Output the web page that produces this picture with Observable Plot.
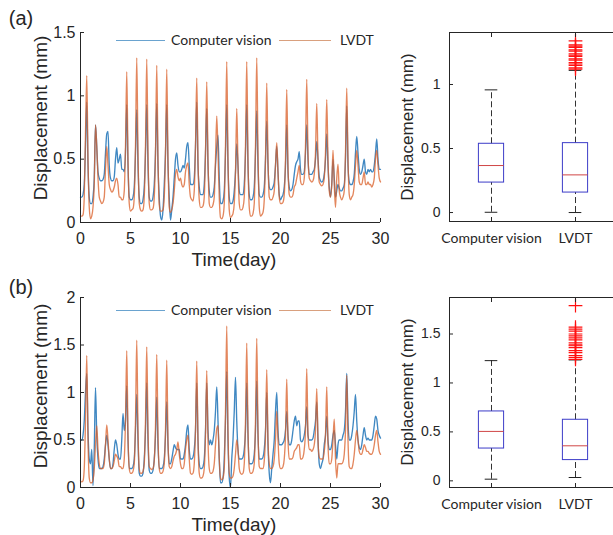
<!DOCTYPE html>
<html><head><meta charset="utf-8">
<script src="https://cdn.jsdelivr.net/npm/d3@7"></script>
<script src="https://cdn.jsdelivr.net/npm/@observablehq/plot@0.6"></script>
<style>
body{margin:0;background:#fff;}
#c{position:relative;width:613px;height:535px;overflow:hidden;background:#fff;font-family:"Liberation Sans",Arial,sans-serif;color:#262626;}
.p{position:absolute;}
.lab{position:absolute;white-space:nowrap;line-height:1;}
.rot{transform:translate(-50%,-50%) rotate(-90deg);}
.ctr{transform:translate(-50%,-50%);}
.leg{position:absolute;font-family:Lato,"Open Sans",sans-serif;font-size:14px;white-space:nowrap;line-height:1;transform:translateY(-50%);}
.ll{position:absolute;height:0;border-top:1.3px solid;}
</style></head><body><div id="c"></div>
<script>
// Displacement samples every 3 hours (1/8 day), days 0..30
const CV_A = [
 .2,.2,.22,.3,.6,.95,.45,.2,
 .15,.15,.2,.35,.77,.6,.4,.35,
 .33,.33,.34,.38,.55,.7,.72,.45,
 .35,.33,.33,.36,.5,.59,.47,.5,
 .54,.42,.42,.4,.55,.93,.45,.2,
 .18,.18,.2,.28,.55,.89,.45,.2,
 .15,.15,.18,.28,.55,.93,.45,.2,
 .17,.17,.2,.3,.55,.94,.45,.2,
 .05,.02,.1,.3,.55,.93,.45,.2,
 .02,.1,.2,.35,.5,.55,.45,.4,
 .4,.42,.45,.43,.5,.6,.63,.45,
 .3,.3,.3,.35,.6,.95,.45,.28,
 .22,.22,.22,.3,.55,.9,.45,.25,
 .2,.2,.22,.28,.45,.6,.69,.35,
 .15,.15,.17,.25,.55,.93,.45,.2,
 .15,.15,.17,.25,.4,.62,.45,.25,
 .22,.22,.22,.3,.55,.93,.45,.22,
 .18,.18,.2,.28,.55,.88,.45,.22,
 .2,.2,.22,.28,.5,.8,.45,.28,
 .26,.26,.28,.32,.45,.6,.4,.22,
 .18,.2,.22,.28,.45,.77,.4,.28,
 .25,.26,.3,.38,.45,.48,.5,.56,
 .42,.38,.38,.4,.55,.77,.5,.38,
 .38,.38,.4,.42,.5,.64,.5,.36,
 .33,.32,.33,.38,.5,.7,.45,.28,
 .2,.3,.5,.35,.2,.25,.3,.27,
 .25,.25,.27,.3,.5,.92,.45,.32,
 .3,.3,.32,.38,.55,.68,.55,.42,
 .38,.4,.45,.5,.4,.38,.42,.4,
 .42,.4,.4,.45,.55,.66,.5,.42,
 .42];
const LVDT_A = [
 .05,.05,.06,.2,.7,1.16,.5,.12,
 .03,.05,.12,.3,.77,.6,.35,.2,
 .17,.15,.16,.2,.42,.6,.45,.3,
 .26,.24,.25,.28,.33,.35,.3,.2,
 .2,.18,.18,.25,.6,1.19,.5,.15,
 .09,.1,.11,.2,.6,1.3,.55,.15,
 .1,.09,.1,.2,.6,1.29,.55,.15,
 .1,.1,.11,.2,.55,1.24,.5,.14,
 .09,.09,.1,.2,.55,1.21,.5,.12,
 .08,.1,.15,.25,.38,.42,.36,.33,
 .35,.3,.28,.3,.4,.45,.47,.3,
 .2,.18,.17,.25,.6,1.14,.5,.18,
 .12,.12,.13,.2,.55,1.11,.5,.15,
 .12,.12,.14,.2,.5,.84,.55,.2,
 .04,.03,.05,.15,.6,1.27,.5,.1,
 .04,.05,.07,.15,.4,.9,.45,.15,
 .1,.1,.12,.2,.6,1.27,.5,.12,
 .05,.05,.07,.15,.6,1.3,.55,.12,
 .05,.06,.08,.18,.5,1.1,.5,.2,
 .18,.18,.2,.25,.45,.63,.4,.2,
 .15,.15,.16,.22,.5,1.05,.45,.22,
 .2,.2,.22,.28,.3,.35,.4,.45,
 .33,.3,.3,.35,.6,1.13,.55,.35,
 .33,.32,.33,.38,.55,.94,.5,.32,
 .3,.29,.3,.35,.55,.97,.5,.25,
 .2,.3,.57,.3,.12,.35,.46,.25,
 .2,.18,.2,.25,.55,1.06,.5,.22,
 .18,.2,.22,.3,.45,.57,.45,.32,
 .3,.3,.35,.4,.3,.3,.32,.3,
 .3,.28,.3,.35,.5,.57,.45,.35,
 .32];
const CV_B = [
 .5,.5,.55,.7,1.0,1.2,.6,.3,
 .25,.4,.02,.4,1.05,.55,.3,.2,
 .2,.2,.22,.3,.45,.55,.45,.3,
 .2,.2,.25,.4,.5,.45,.35,.3,
 .3,.5,.78,.6,.7,1.07,.5,.2,
 .2,.2,.22,.3,.6,.98,.5,.15,
 .12,.12,.15,.3,.6,1.1,.5,.18,
 .15,.15,.18,.3,.55,.95,.45,.2,
 .2,.2,.22,.3,.55,.9,.45,.25,
 .25,.3,.38,.45,.42,.4,.4,.4,
 .3,.3,.3,.35,.45,.6,.66,.4,
 .3,.3,.32,.4,.6,1.1,.5,.25,
 .2,.2,.22,.3,.6,1.1,.6,.45,
 .5,.45,.5,.6,.8,1.06,.7,.3,
 .05,.05,.1,.3,.7,1.22,.5,.1,
 0,.3,.5,.8,1.16,.7,.4,.3,
 .3,.3,.32,.4,.6,1.1,.55,.25,
 .25,.25,.27,.35,.6,1.12,.55,.3,
 .3,.3,.32,.4,.6,1.0,.45,.15,
 .05,.2,.35,.5,.8,1.0,.6,.45,
 .45,.45,.47,.5,.6,.8,.55,.45,
 .45,.5,.6,.7,.75,.65,.7,.7,
 .5,.48,.5,.55,.65,.85,.55,.5,
 .5,.5,.52,.6,.7,.9,.5,.25,
 .2,.25,.3,.45,.55,.75,.5,.4,
 .4,.45,.55,.6,.45,.3,.45,.5,
 .5,.5,.55,.6,.8,1.2,.7,.5,
 .5,.55,.65,.8,.98,.7,.5,.42,
 .4,.45,.55,.63,.55,.5,.52,.5,
 .5,.5,.55,.65,.75,.72,.6,.55,
 .52];
const LVDT_B = [
 .07,.06,.07,.2,.7,1.39,.5,.1,
 .05,.05,.08,.2,.45,.65,.4,.25,
 .2,.2,.2,.25,.45,.66,.5,.3,
 .2,.2,.22,.28,.35,.33,.3,.22,
 .22,.2,.2,.3,.7,1.44,.55,.2,
 .15,.15,.17,.25,.7,1.55,.6,.2,
 .15,.15,.17,.25,.7,1.48,.6,.22,
 .2,.19,.2,.28,.65,1.4,.55,.2,
 .15,.15,.17,.25,.6,1.34,.5,.22,
 .2,.22,.28,.33,.35,.4,.48,.35,
 .25,.2,.2,.25,.4,.5,.55,.3,
 .15,.14,.15,.25,.6,1.33,.5,.15,
 .1,.1,.12,.2,.55,1.23,.5,.2,
 .15,.15,.17,.25,.45,.62,.65,.3,
 .1,.08,.1,.2,.8,1.7,.6,.15,
 .1,.1,.12,.2,.35,.5,.4,.2,
 .15,.14,.15,.25,.7,1.52,.6,.2,
 .15,.15,.17,.25,.7,1.57,.6,.22,
 .2,.2,.2,.28,.55,1.24,.5,.25,
 .2,.2,.22,.3,.5,.8,.5,.25,
 .2,.2,.22,.3,.55,1.14,.5,.3,
 .3,.3,.32,.38,.4,.42,.45,.45,
 .3,.3,.32,.4,.6,1.25,.55,.4,
 .4,.38,.4,.45,.6,1.04,.5,.32,
 .3,.3,.3,.38,.55,1.06,.45,.25,
 .25,.3,.5,.72,.3,.1,.25,.25,
 .25,.25,.27,.35,.6,1.18,.5,.22,
 .2,.2,.25,.35,.5,.6,.5,.38,
 .35,.35,.4,.45,.42,.38,.38,.36,
 .35,.35,.38,.45,.55,.6,.48,.38,
 .35];

// Box plot statistics
const cats = ["Computer vision", "LVDT"];
const boxA_lo = [0.002, 0.0], boxA_q1 = [0.234, 0.156], boxA_med = [0.367, 0.294], boxA_q3 = [0.537, 0.542], boxA_hi = [0.958, 1.11];
const boxB_lo = [0.017, 0.034], boxB_q1 = [0.33, 0.212], boxB_med = [0.505, 0.358], boxB_q3 = [0.709, 0.624], boxB_hi = [1.228, 1.235];
const outA = [1.12, 1.13, 1.15, 1.16, 1.17, 1.19, 1.2, 1.22, 1.23, 1.24, 1.26, 1.27, 1.29, 1.3, 1.31, 1.34];
const outB = [1.24, 1.26, 1.28, 1.31, 1.33, 1.36, 1.38, 1.39, 1.41, 1.44, 1.46, 1.48, 1.5, 1.53, 1.55, 1.57, 1.79];

const xTicks = [0, 5, 10, 15, 20, 25, 30];
const yTicksA = [0, 0.5, 1, 1.5], yTicksB = [0, 0.5, 1, 1.5, 2];
const bTicksA = [0, 0.5, 1], bTicksB = [0, 0.5, 1, 1.5];

const BLUE = "#1f73b7", ORANGE = "#d95f28", AX = "#262626";
const fmt = d => String(d);
const series = arr => arr.map((v, i) => ({t: i / 8, v}));

function linePanel(cv, lv, yMax, yTicks) {
  return Plot.plot({
    width: 400, height: 270, marginLeft: 80, marginRight: 20, marginTop: 32, marginBottom: 48,
    x: {domain: [0, 30]}, y: {domain: [0, yMax]},
    style: {fontFamily: "'Liberation Sans', Arial, sans-serif", fontSize: "16px", color: AX, background: "transparent", overflow: "visible"},
    marks: [
      Plot.line(series(cv), {x: "t", y: "v", stroke: BLUE, strokeWidth: 1.35, strokeOpacity: 0.85, curve: "monotone-x"}),
      Plot.line(series(lv), {x: "t", y: "v", stroke: ORANGE, strokeWidth: 1.35, strokeOpacity: 0.75, curve: "monotone-x"}),
      Plot.ruleX([0], {stroke: AX}),
      Plot.ruleY([0], {stroke: AX}),
      Plot.axisX({ticks: xTicks, tickSize: 0, tickPadding: 10, tickFormat: fmt, label: null, fontSize: 16}),
      Plot.axisX({ticks: xTicks, tickSize: 4, dy: -4, text: null, label: null, stroke: AX}),
      Plot.axisY({ticks: yTicks, tickSize: 0, tickPadding: 5, tickFormat: fmt, label: null, fontSize: 16}),
      Plot.axisY({ticks: yTicks, tickSize: 4, dx: 4, text: null, label: null, stroke: AX})
    ]
  });
}

function boxPanel(lo, q1, med, q3, hi, outl, yDom, yTicks, mb) {
  const boxes = cats.map((c, i) => ({pos: i + 1, lo: lo[i], q1: q1[i], med: med[i], q3: q3[i], hi: hi[i]}));
  return Plot.plot({
    width: 237, height: 270, marginLeft: 69, marginRight: 0, marginTop: 32, marginBottom: mb,
    x: {domain: [0.5, 2.5]}, y: {domain: yDom},
    style: {fontFamily: "'Liberation Sans', Arial, sans-serif", fontSize: "13px", color: AX, background: "transparent"},
    marks: [
      Plot.ruleX(boxes, {x: "pos", y1: "q3", y2: "hi", stroke: "#333", strokeDasharray: "6,3"}),
      Plot.ruleX(boxes, {x: "pos", y1: "lo", y2: "q1", stroke: "#333", strokeDasharray: "6,3"}),
      Plot.ruleY(boxes, {y: "hi", x1: d => d.pos - 0.075, x2: d => d.pos + 0.075, stroke: "#222"}),
      Plot.ruleY(boxes, {y: "lo", x1: d => d.pos - 0.075, x2: d => d.pos + 0.075, stroke: "#222"}),
      Plot.rect(boxes, {x1: d => d.pos - 0.15, x2: d => d.pos + 0.15, y1: "q1", y2: "q3", stroke: "#3c3cc8", fill: "none"}),
      Plot.ruleY(boxes, {y: "med", x1: d => d.pos - 0.15, x2: d => d.pos + 0.15, stroke: "#d04646"}),
      Plot.dot(outl, {x: () => 2, y: d => d, symbol: "plus", stroke: "#ff1010", r: 4.5, strokeWidth: 1.2}),
      Plot.frame({stroke: AX}),
      Plot.axisX({ticks: [1, 2], tickSize: 0, tickPadding: 12, tickFormat: d => cats[d - 1], label: null, fontSize: 14, fontFamily: "Lato, 'Open Sans', sans-serif"}),
      Plot.axisX({ticks: [1, 2], tickSize: 4, dy: -4, text: null, label: null, stroke: AX}),
      Plot.axisX({ticks: [1, 2], anchor: "top", tickSize: 4, dy: 4, text: null, label: null, stroke: AX}),
      Plot.axisY({ticks: yTicks, tickSize: 0, tickPadding: 9, tickFormat: fmt, label: null, fontSize: 14}),
      Plot.axisY({ticks: yTicks, tickSize: 4, dx: 4, text: null, label: null, stroke: AX})
    ]
  });
}

const c = document.getElementById("c");
function place(el, left, top) { el.classList.add("p"); el.style.left = left + "px"; el.style.top = top + "px"; c.appendChild(el); }
function label(txt, x, y, size, cls) {
  const d = document.createElement("div");
  d.className = "lab " + cls; d.textContent = txt;
  d.style.left = x + "px"; d.style.top = y + "px"; d.style.fontSize = size + "px";
  c.appendChild(d);
}
function legend(y) {
  const items = [["#6aa3cf", 116, 165, "Computer vision", 171], ["#d9a07e", 279, 331, "LVDT", 340]];
  for (const [lc, x1, x2, txt, tx] of items) {
    const l = document.createElement("div"); l.className = "ll";
    l.style.left = x1 + "px"; l.style.width = (x2 - x1) + "px"; l.style.top = y + "px"; l.style.borderColor = lc;
    c.appendChild(l);
    const t = document.createElement("div"); t.className = "leg"; t.textContent = txt;
    t.style.left = tx + "px"; t.style.top = y + "px"; c.appendChild(t);
  }
}

place(linePanel(CV_A, LVDT_A, 1.5, yTicksA), 0, 0);
place(linePanel(CV_B, LVDT_B, 2, yTicksB), 0, 265);
place(boxPanel(boxA_lo, boxA_q1, boxA_med, boxA_q3, boxA_hi, outA, [-0.07, 1.406], bTicksA, 49), 380, 0);
place(boxPanel(boxB_lo, boxB_q1, boxB_med, boxB_q3, boxB_hi, outB, [-0.068, 1.873], bTicksB, 48), 380, 265);

label("(a)", 21, 18, 20, "ctr");
label("(b)", 21, 287, 20, "ctr");
label("Displacement (mm)", 40, 118, 19, "rot");
label("Displacement (mm)", 40, 386, 19, "rot");
label("Time(day)", 234, 259, 19, "ctr");
label("Time(day)", 234, 524, 19, "ctr");
label("Displacement (mm)", 407, 127, 17, "rot");
label("Displacement (mm)", 407, 392, 17, "rot");
legend(40);
legend(310);
</script></body></html>
